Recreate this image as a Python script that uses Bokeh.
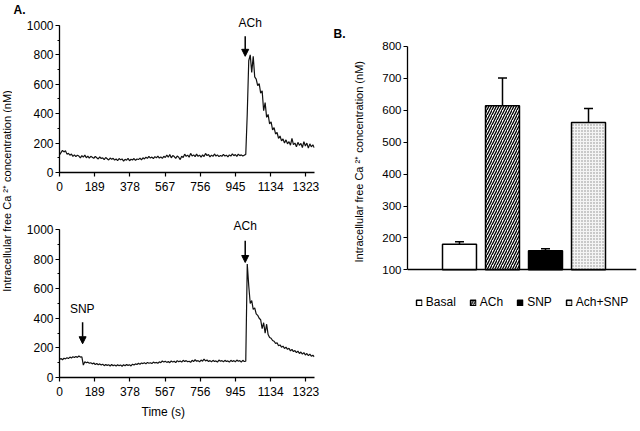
import math
from bokeh.plotting import figure
from bokeh.layouts import row, column
from bokeh.models import (Range1d, SingleIntervalTicker, FixedTicker, Label, Arrow, NormalHead,
                          Whisker, TeeHead, ColumnDataSource, Legend, LegendItem, Title)
from bokeh.embed import file_html
from bokeh.resources import INLINE

FONT = "Liberation Sans"

# ---------------- data ----------------
time_s = list(range(0, 1369, 8))  # sampling grid of the traces (s)

trace_ach = [
    120, 135, 150, 140, 148, 125, 130, 118, 125, 110,
    120, 108, 118, 112, 100, 115, 105, 118, 100, 112,
    98, 110, 104, 96, 110, 100, 92, 106, 95, 100,
    88, 102, 94, 85, 98, 90, 96, 84, 92, 80,
    95, 86, 92, 78, 90, 84, 96, 80, 90, 85,
    95, 82, 92, 88, 98, 86, 100, 92, 104, 96,
    110, 98, 105, 95, 108, 100, 112, 98, 106, 96,
    110, 102, 118, 104, 122, 100, 115, 108, 96, 112,
    104, 88, 110, 102, 125, 110, 118, 104, 130, 112,
    120, 108, 125, 110, 118, 104, 120, 108, 130, 115,
    122, 106, 118, 110, 126, 112, 120, 108, 116, 110,
    124, 112, 118, 106, 120, 112, 126, 114, 122, 110,
    125, 115, 120, 112, 118, 122, 400, 760, 800, 680,
    790, 650, 635, 590, 605, 540, 555, 420, 475, 375,
    395, 330, 345, 290, 305, 262, 272, 232, 248, 215,
    228, 200, 222, 195, 210, 186, 232, 190, 200, 175,
    205, 185, 198, 170, 210, 180, 200, 166, 195, 175,
    188, 168,
]

trace_snp_ach = [
    122, 128, 120, 130, 126, 134, 128, 138, 132, 140,
    135, 142, 136, 145, 138, 140, 84, 106, 100, 104,
    96, 100, 92, 98, 88, 94, 86, 92, 84, 90,
    80, 88, 82, 86, 78, 88, 80, 85, 78, 86,
    80, 84, 76, 86, 80, 88, 82, 86, 78, 90,
    84, 92, 88, 96, 90, 98, 94, 100, 92, 102,
    96, 100, 94, 104, 98, 102, 96, 106, 100, 112,
    104, 110, 102, 108, 100, 112, 104, 110, 100, 114,
    106, 112, 104, 116, 108, 114, 106, 110, 102, 116,
    108, 120, 110, 114, 106, 118, 110, 124, 112, 118,
    108, 114, 106, 116, 108, 112, 104, 118, 110, 114,
    106, 116, 108, 112, 104, 116, 108, 114, 106, 118,
    110, 114, 104, 116, 108, 110, 766, 620, 500, 520,
    460, 470, 430, 420, 400, 390, 330, 370, 300, 360,
    290, 270, 265, 250, 245, 230, 235, 215, 220, 205,
    212, 196, 205, 190, 198, 180, 190, 175, 182, 168,
    178, 162, 172, 158, 168, 152, 162, 148, 158, 144,
    150, 140,
]

time_ticks = [0, 189, 378, 567, 756, 945, 1134, 1323]
ach_time = 997
snp_time = 124

categories = ["Basal", "ACh", "SNP", "Ach+SNP"]
means = [180, 614, 160, 562]
sem = [8, 87, 6, 44]
bar_ticks = [100, 200, 300, 400, 500, 600, 700, 800]

YLABEL = "Intracellular free Ca \u00b2\u207a concentration (nM)"

# ---------------- helpers ----------------
def style_axis(ax, size="12px"):
    ax.axis_line_color = "black"
    ax.axis_line_width = 1.3
    ax.major_tick_line_color = "black"
    ax.major_tick_line_width = 1.2
    ax.minor_tick_line_color = "black"
    ax.minor_tick_line_width = 1.0
    ax.major_tick_in = 0
    ax.major_tick_out = 4
    ax.minor_tick_in = 0
    ax.minor_tick_out = 2
    ax.major_label_text_font = FONT
    ax.major_label_text_font_size = size
    ax.major_label_text_color = "black"


def base_fig(**kw):
    p = figure(output_backend="svg", toolbar_location=None, **kw)
    p.background_fill_color = "white"
    p.border_fill_color = "white"
    p.outline_line_color = None
    p.grid.visible = False
    return p


def trace_panel(values, height, top, bottom, y_end):
    p = base_fig(width=310, height=height, x_range=Range1d(0, 1369), y_range=Range1d(0, y_end),
                 min_border_left=47, min_border_right=8, min_border_top=top, min_border_bottom=bottom)
    p.line(time_s, values, line_color="#111111", line_width=1.2)
    style_axis(p.xaxis[0])
    style_axis(p.yaxis[0])
    p.xaxis.ticker = FixedTicker(ticks=time_ticks)
    p.xaxis.bounds = (0, 1369)
    p.xaxis.major_label_standoff = 5
    p.yaxis.ticker = SingleIntervalTicker(interval=200, num_minor_ticks=2)
    p.yaxis.bounds = (0, 1000)
    p.yaxis.major_label_standoff = 2
    return p


def label(p, x, y, text, size="12px", style="normal", align="center", baseline="middle", angle=0.0):
    p.add_layout(Label(x=x, y=y, text=text, text_font=FONT, text_font_size=size,
                       text_font_style=style, text_align=align, text_baseline=baseline,
                       text_color="black", angle=angle))


def arrow(p, x, y0, y1):
    p.add_layout(Arrow(end=NormalHead(size=7, fill_color="black", line_color="black", line_width=1),
                       x_start=x, y_start=y0, x_end=x, y_end=y1,
                       line_color="black", line_width=1.5))


def set_title(t, text, size, style="normal", align="left", offset=0, standoff=0):
    t.text = text
    t.align = align
    t.offset = offset
    t.standoff = standoff
    t.text_font = FONT
    t.text_font_size = size
    t.text_font_style = style
    t.text_color = "black"
    return t

# ---------------- left: y-label strip ----------------
fl = base_fig(width=12, height=427, x_range=Range1d(0, 1), y_range=Range1d(0, 1),
              x_axis_type=None, y_axis_type=None, title=None,
              min_border_left=0, min_border_right=0, min_border_top=0, min_border_bottom=0)
label(fl, 0.58, 0.59, YLABEL, size="11px", angle=math.pi / 2)

# ---------------- traces ----------------
p1 = trace_panel(trace_ach, 205, 15, 33, 1060.8)
set_title(p1.title, "A.", "12px", style="bold", offset=-46)
arrow(p1, ach_time, 926, 790)
label(p1, 1024, 1015, "ACh")

p2 = trace_panel(trace_snp_ach, 222, 12, 50, 1081)
arrow(p2, ach_time, 924, 777)
label(p2, 997, 1022, "ACh")
arrow(p2, snp_time, 374, 228)
label(p2, 122, 464, "SNP")
p2.add_layout(set_title(Title(), "Time (s)", "12px", offset=82, standoff=9), "below")

# ---------------- bar chart ----------------
p3 = base_fig(width=316, height=340, x_range=Range1d(-1.209, 4.116), y_range=Range1d(-58.9, 818.8),
              min_border_left=85, min_border_right=2, min_border_top=40, min_border_bottom=20)

bar_styles = [
    dict(fill_color="white"),
    dict(fill_color="white", hatch_pattern="/", hatch_color="black", hatch_scale=5, hatch_weight=1.3),
    dict(fill_color="black"),
    dict(fill_color="#f4f4f4", hatch_pattern=".", hatch_color="#8a8a8a", hatch_scale=3, hatch_weight=1),
]
items = []
for i, (cat, m, e) in enumerate(zip(categories, means, sem)):
    src = ColumnDataSource(dict(x=[i], top=[m], upper=[m + e]))
    r = p3.vbar(x="x", top="top", bottom=100, width=0.79, source=src,
                line_color="black", line_width=1.5, **bar_styles[i])
    p3.add_layout(Whisker(source=src, base="x", lower="top", upper="upper", dimension="height",
                          line_color="black", line_width=1.5, lower_head=None,
                          upper_head=TeeHead(size=9, line_color="black", line_width=1.5)))
    items.append(LegendItem(label=cat, renderers=[r]))

style_axis(p3.yaxis[0], size="11.5px")
p3.yaxis.ticker = FixedTicker(ticks=bar_ticks)
p3.yaxis.bounds = (100, 800)
p3.yaxis.major_label_standoff = 2
p3.add_layout(set_title(Title(), YLABEL, "11px", offset=58, standoff=30), "left")

style_axis(p3.xaxis[0])
p3.xaxis.ticker = FixedTicker(ticks=[])
p3.xaxis.major_label_text_font_size = "1px"
p3.xaxis.fixed_location = 100

set_title(p3.title, "B.", "12px", style="bold", offset=-74)

legend = Legend(items=items, orientation="horizontal", location="bottom_center",
                glyph_width=7, glyph_height=7, label_standoff=4, spacing=13,
                padding=0, margin=11, label_height=14,
                label_text_font=FONT, label_text_font_size="12px", label_text_color="black",
                border_line_color=None, background_fill_alpha=0)
p3.add_layout(legend, "center")

layout = row(fl, column(p1, p2), p3)
open("out.html", "w").write(file_html(layout, INLINE))
